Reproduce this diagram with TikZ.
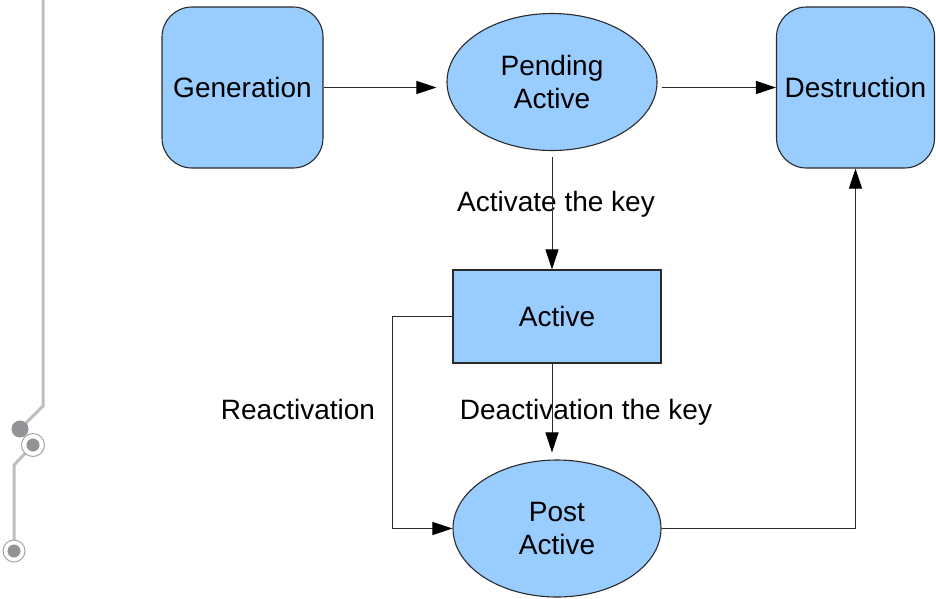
\documentclass[tikz,border=0pt]{standalone}
\usepackage{fontspec}
\setmainfont{Liberation Sans}
\usetikzlibrary{shapes.geometric,arrows.meta}
\definecolor{boxblue}{HTML}{99CCFF}
\definecolor{edgegray}{HTML}{2A2A2A}
\definecolor{decoline}{HTML}{BDBDC2}
\definecolor{decodot}{HTML}{929297}
\definecolor{decoring}{HTML}{A5A5A8}
\tikzset{
  lbl/.style={font=\fontsize{28}{33}\selectfont, align=center, inner sep=0pt},
  roundbox/.style={draw=edgegray, line width=1.1pt, fill=boxblue, rounded corners=30pt,
    minimum width=161pt, minimum height=161pt, lbl},
  rectbox/.style={draw=edgegray, line width=1.1pt, fill=boxblue,
    minimum width=208pt, minimum height=93pt, lbl},
  ellbox/.style={ellipse, draw=edgegray, line width=1.1pt, fill=boxblue,
    minimum width=210pt, minimum height=137pt, lbl},
  arr/.style={draw=edgegray, line width=1pt, -{Triangle[length=20pt,width=13pt,color=black]}},
  decol/.style={draw=decoline, line width=3pt},
}
\begin{document}
\begin{tikzpicture}[x=1pt,y=-1pt]
\useasboundingbox[fill=white] (0,0) rectangle (936,598);
% left decoration
\draw[decol] (43,0) -- (43,406) -- (20,429);
\draw[decol] (33,445) -- (14,465) -- (14,551);
\fill[decodot] (20,429) circle (8.5pt);
\draw[decoring, line width=1pt, fill=white] (33,445) circle (11.5pt);
\fill[decodot] (33,445) circle (6.5pt);
\draw[decoring, line width=1pt, fill=white] (14,551) circle (11pt);
\fill[decodot] (14,551) circle (6.5pt);
% nodes
\node[roundbox] (gen) at (242.5,87.5) {Generation};
\node[ellbox] (pend) at (552,82) {Pending\\Active};
\node[roundbox, minimum width=158pt] (dest) at (855.5,87.5) {Destruction};
\node[rectbox] (act) at (557,316.5) {Active};
\node[ellbox, minimum width=208pt] (post) at (557,528.5) {Post\\Active};
% labels
\node[lbl] (lact) at (556,204) {Activate the key};
\node[lbl] (ldeact) at (586,412) {Deactivation the key};
\node[lbl] (lreact) at (298,409) {Reactivation};
% connectors
\draw[arr, shorten >=10pt] (gen.east) -- (gen.east -| pend.west);
\draw[arr, shorten <=4pt] (pend.east |- dest.west) -- (dest.west);
\draw[arr, shorten <=6pt] (pend.south) -- (pend.south |- act.north);
\draw[arr, shorten >=7pt] (act.south -| pend.south) -- (post.north -| pend.south);
\draw[arr] (act.west) -- ++(-60,0) |- (post.west);
\draw[arr] (post.east) -| (dest.south);
\end{tikzpicture}
\end{document}
